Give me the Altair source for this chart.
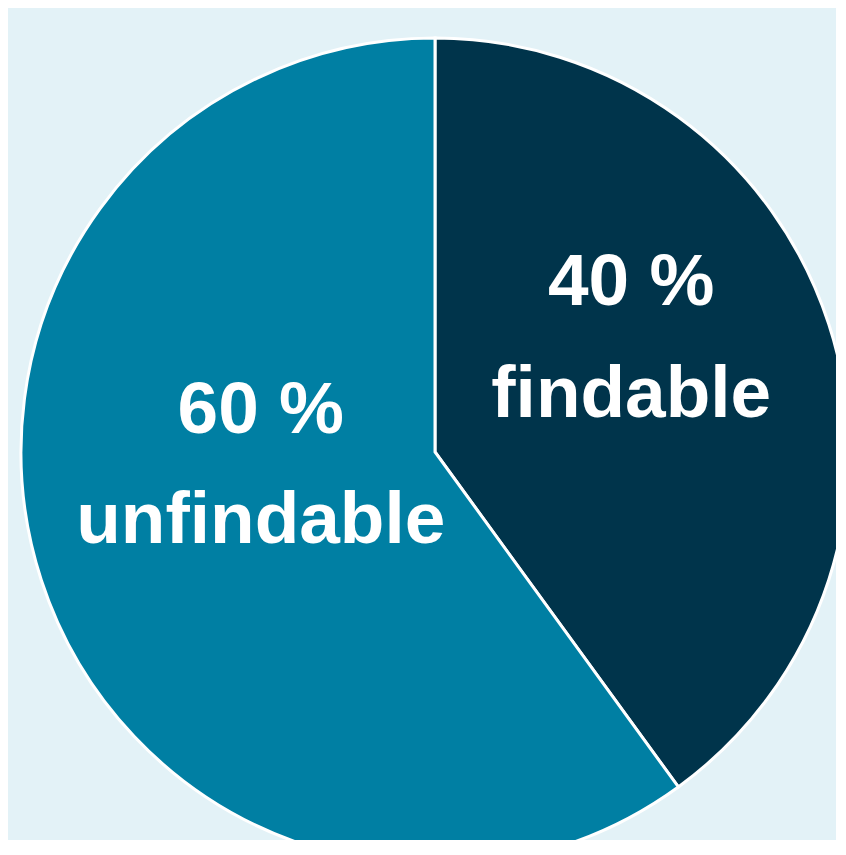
import altair as alt
import pandas as pd

categories = ["findable", "unfindable"]
shares = [40, 60]
labels = ["40 %\nfindable", "60 %\nunfindable"]
colors = ["#00344b", "#007fa3"]

df = pd.DataFrame({
    "category": categories,
    "share": shares,
    "label": labels,
    "order": [0, 1],
})

CX, CY, R = 427, 444, 414

base = alt.Chart(df).encode(
    theta=alt.Theta("share:Q", stack=True),
    order=alt.Order("order:Q"),
)

arcs = base.mark_arc(stroke="white", strokeWidth=3, outerRadius=R).encode(
    color=alt.Color("category:N", scale=alt.Scale(domain=categories, range=colors), legend=None),
    x=alt.value(CX),
    y=alt.value(CY),
)

def label_layer(cat, dx, dy, lh):
    return base.mark_text(
        radius=200,
        font="Liberation Sans",
        fontWeight="bold",
        fontSize=73,
        color="white",
        align="center",
        baseline="alphabetic",
        lineBreak="\n",
        lineHeight=lh,
        dx=dx,
        dy=dy,
    ).encode(
        text=alt.condition(alt.datum.category == cat, "label:N", alt.value("")),
        x=alt.value(CX),
        y=alt.value(CY),
    )

chart = alt.layer(
    arcs,
    label_layer("findable", 6, -85, 112),
    label_layer("unfindable", 16, -81, 110),
).properties(
    width=828,
    height=832,
    padding=0,
    autosize=alt.AutoSizeParams(type="none"),
    background="#e3f2f7",
).configure_view(stroke=None)

chart.save("out.html", embed_options={"renderer": "svg", "actions": False})
